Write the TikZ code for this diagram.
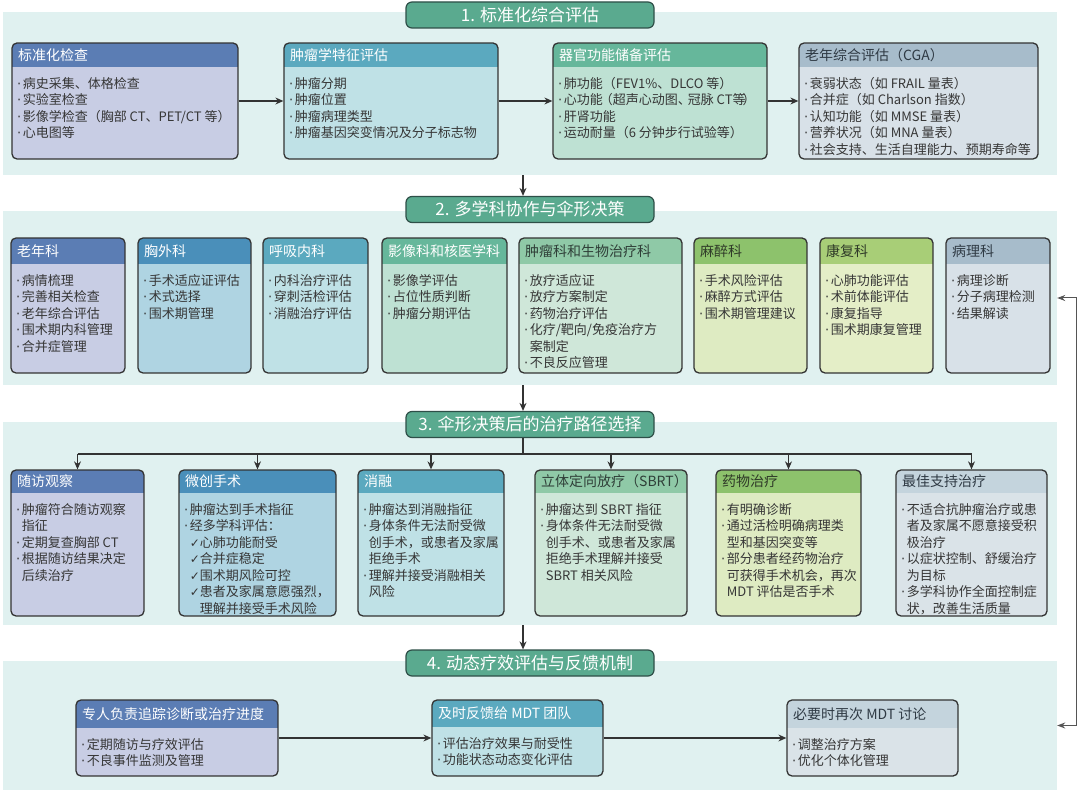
\documentclass[tikz,border=0pt]{standalone}
\usepackage{fontspec}
\setmainfont{Noto Sans CJK SC}
\newfontfamily\symf{DejaVu Sans}
\usetikzlibrary{arrows.meta,fit}

\definecolor{bandc}{HTML}{E0F1F0}
\definecolor{tabc}{HTML}{5AAA8F}
\definecolor{tabd}{HTML}{2E4F48}
\definecolor{frame}{HTML}{333333}
\definecolor{txt}{HTML}{363636}
\definecolor{fbc}{HTML}{555555}
% palettes: h = header, b = body, t = header text
\definecolor{pAh}{HTML}{5B7DB4}\definecolor{pAb}{HTML}{C8CDE4}\colorlet{pAt}{white}
\definecolor{pBh}{HTML}{4A8FBA}\definecolor{pBb}{HTML}{AFD4E2}\colorlet{pBt}{white}
\definecolor{pCh}{HTML}{5BA9BF}\definecolor{pCb}{HTML}{BFE1E6}\colorlet{pCt}{white}
\definecolor{pDh}{HTML}{66B79B}\definecolor{pDb}{HTML}{BEE1D3}\colorlet{pDt}{white}
\definecolor{pEh}{HTML}{8FC9A7}\definecolor{pEb}{HTML}{CFE7D9}\definecolor{pEt}{HTML}{2F3F38}
\definecolor{pFh}{HTML}{8DC26C}\definecolor{pFb}{HTML}{DEEBC2}\definecolor{pFt}{HTML}{2F3A28}
\definecolor{pGh}{HTML}{A8CE77}\definecolor{pGb}{HTML}{E4EEC7}\definecolor{pGt}{HTML}{2F3A28}
\definecolor{pHh}{HTML}{A7BCCB}\definecolor{pHb}{HTML}{D8E1E8}\definecolor{pHt}{HTML}{2F3A44}
\definecolor{pIh}{HTML}{C4D4DD}\definecolor{pIb}{HTML}{DAE3E8}\definecolor{pIt}{HTML}{2F3A44}

\newcommand\itm{{\symf ·}\kern1.5pt}
\newcommand\ind{\hphantom{\itm}}
\newcommand\ck{{\symf\fontsize{12}{14}\selectfont ✓}}
\newcommand\ckind{\hphantom{\ck}}

% #1 name, #2 x1, #3 y1, #4 x2, #5 y2, #6 header height, #7 palette, #8 title, #9 body
\newcommand\BOX[9]{%
  \begin{scope}
    \clip[rounded corners=5pt] (#2,#3) rectangle (#4,#5);
    \fill[#7b] (#2,#3) rectangle (#4,#5);
    \fill[#7h] (#2,#3) rectangle (#4,#3+#6);
  \end{scope}
  \node[boxframe, fit={(#2,#3) (#4,#5)}] (#1) {};
  \node[headtext, text=#7t, anchor=west] (#1-t) at (#2+6, #3+#6/2) {#8};
  \node[bodytext, anchor=north west] (#1-b) at (#2+5, #3+#6+10) {#9};
}

\begin{document}
\begin{tikzpicture}[x=1pt,y=-1pt,
  band/.style={fill=bandc, draw=none, inner sep=0pt},
  tab/.style={fill=tabc, draw=tabd, line width=1.2pt, rounded corners=6pt, text=white,
    font=\fontsize{17}{20}\selectfont, inner sep=0pt, minimum width=248pt, minimum height=26pt},
  boxframe/.style={draw=frame, line width=1.3pt, rounded corners=5pt, inner sep=0pt},
  headtext/.style={font=\fontsize{14}{17}\selectfont, inner sep=0pt},
  bodytext/.style={font=\fontsize{13}{16.5}\selectfont, text=txt, align=left, inner sep=0pt},
  conn/.style={draw=frame, line width=1.1pt},
  arr/.style={draw=frame, line width=1.1pt, -{Stealth[length=8pt,width=7pt]}},
  fb/.style={draw=fbc, line width=1pt, {Stealth[length=8pt,width=6pt]}-{Stealth[length=8pt,width=6pt]}}
]
\useasboundingbox (0,0) rectangle (1080,794);
\fill[white] (0,0) rectangle (1080,794);

% bands
\node[band, minimum width=1054pt, minimum height=163pt] (band1) at (530,93.5) {};
\node[band, minimum width=1054pt, minimum height=174pt] (band2) at (530,298) {};
\node[band, minimum width=1054pt, minimum height=203pt] (band3) at (530,523.5) {};
\node[band, minimum width=1054pt, minimum height=129pt] (band4) at (530,725.5) {};

% tabs
\node[tab] (tab1) at (530,15) {1. 标准化综合评估};
\node[tab] (tab2) at (530,209.5) {2. 多学科协作与伞形决策};
\node[tab] (tab3) at (530,424.5) {3. 伞形决策后的治疗路径选择};
\node[tab] (tab4) at (530,663) {4. 动态疗效评估与反馈机制};

% ---------- section 1
\BOX{b11}{12}{43}{238}{159}{24}{pA}{标准化检查}{%
\itm 病史采集、体格检查\\
\itm 实验室检查\\
\itm 影像学检查（胸部 CT、PET/CT 等）\\
\itm 心电图等}
\BOX{b12}{284}{43}{498}{159}{24}{pC}{肿瘤学特征评估}{%
\itm 肿瘤分期\\
\itm 肿瘤位置\\
\itm 肿瘤病理类型\\
\itm 肿瘤基因突变情况及分子标志物}
\BOX{b13}{553}{43}{767}{159}{24}{pD}{器官功能储备评估}{%
\itm 肺功能（FEV1\%、DLCO 等）\\
\itm 心功能\kern-3pt（超声心动图、\kern-3pt冠脉 CT等\kern-3pt）\\
\itm 肝肾功能\\
\itm 运动耐量（6 分钟步行试验等）}
\BOX{b14}{799}{43}{1038}{159}{24}{pH}{老年综合评估（CGA）}{%
\itm 衰弱状态（如 FRAIL 量表）\\
\itm 合并症（如 Charlson 指数）\\
\itm 认知功能（如 MMSE 量表）\\
\itm 营养状况（如 MNA 量表）\\
\itm 社会支持、生活自理能力、预期寿命等}

\draw[arr] (b11) -- (b12);
\draw[arr] (b12) -- (b13);
\draw[arr] (b13) -- (b14);

% ---------- section 2
\BOX{b21}{11}{238}{125}{373}{26}{pA}{老年科}{%
\itm 病情梳理\\
\itm 完善相关检查\\
\itm 老年综合评估\\
\itm 围术期内科管理\\
\itm 合并症管理}
\BOX{b22}{138}{238}{251}{373}{26}{pB}{胸外科}{%
\itm 手术适应证评估\\
\itm 术式选择\\
\itm 围术期管理}
\BOX{b23}{263}{238}{368}{373}{26}{pC}{呼吸内科}{%
\itm 内科治疗评估\\
\itm 穿刺活检评估\\
\itm 消融治疗评估}
\BOX{b24}{382}{238}{507}{373}{26}{pD}{影像科和核医学科}{%
\itm 影像学评估\\
\itm 占位性质判断\\
\itm 肿瘤分期评估}
\BOX{b25}{519}{238}{682}{373}{26}{pE}{肿瘤科和生物治疗科}{%
\itm 放疗适应证\\
\itm 放疗方案制定\\
\itm 药物治疗评估\\
\itm 化疗/靶向/免疫治疗方\\
\ind 案制定\\
\itm 不良反应管理}
\BOX{b26}{694}{238}{807}{373}{26}{pF}{麻醉科}{%
\itm 手术风险评估\\
\itm 麻醉方式评估\\
\itm 围术期管理建议}
\BOX{b27}{820}{238}{933}{373}{26}{pG}{康复科}{%
\itm 心肺功能评估\\
\itm 术前体能评估\\
\itm 康复指导\\
\itm 围术期康复管理}
\BOX{b28}{946}{238}{1050}{373}{26}{pH}{病理科}{%
\itm 病理诊断\\
\itm 分子病理检测\\
\itm 结果解读}

% ---------- section 3
\BOX{b31}{11}{470}{144}{616}{23}{pA}{随访观察}{%
\itm 肿瘤符合随访观察\\
\ind 指征\\
\itm 定期复查胸部 CT\\
\itm 根据随访结果决定\\
\ind 后续治疗}
\BOX{b32}{179}{470}{336}{616}{23}{pB}{微创手术}{%
\itm 肿瘤达到手术指征\\
\itm 经多学科评估：\\
\ind\ck 心肺功能耐受\\
\ind\ck 合并症稳定\\
\ind\ck 围术期风险可控\\
\ind\ck 患者及家属意愿强烈，\\
\ind\ckind 理解并接受手术风险}
\BOX{b33}{358}{470}{504}{616}{23}{pC}{消融}{%
\itm 肿瘤达到消融指征\\
\itm 身体条件无法耐受微\\
\ind 创手术，或患者及家属\\
\ind 拒绝手术\\
\itm 理解并接受消融相关\\
\ind 风险}
\BOX{b34}{535}{470}{687}{616}{23}{pE}{立体定向放疗（SBRT）}{%
\itm 肿瘤达到 SBRT 指征\\
\itm 身体条件无法耐受微\\
\ind 创手术、或患者及家属\\
\ind 拒绝手术理解并接受\\
\ind SBRT 相关风险}
\BOX{b35}{716}{470}{861}{616}{23}{pF}{药物治疗}{%
\itm 有明确诊断\\
\itm 通过活检明确病理类\\
\ind 型和基因突变等\\
\itm 部分患者经药物治疗\\
\ind 可获得手术机会，再次\\
\ind MDT 评估是否手术}
\BOX{b36}{896}{470}{1047}{616}{23}{pI}{最佳支持治疗}{%
\itm 不适合抗肿瘤治疗或患\\
\ind 者及家属不愿意接受积\\
\ind 极治疗\\
\itm 以症状控制、舒缓治疗\\
\ind 为目标\\
\itm 多学科协作全面控制症\\
\ind 状，改善生活质量}

% ---------- section 4
\BOX{b41}{76}{700}{278}{776}{28}{pA}{专人负责追踪诊断或治疗进度}{%
\itm 定期随访与疗效评估\\
\itm 不良事件监测及管理}
\BOX{b42}{432}{700}{603}{776}{27}{pC}{及时反馈给 MDT 团队}{%
\itm 评估治疗效果与耐受性\\
\itm 功能状态动态变化评估}
\BOX{b43}{787}{700}{958}{776}{28}{pI}{必要时再次 MDT 讨论}{%
\itm 调整治疗方案\\
\itm 优化个体化管理}

\draw[arr] (b41) -- (b42);
\draw[arr] (b42) -- (b43);

% ---------- connectors between sections
\coordinate (ax) at (523,0);
\draw[arr] (band1.south -| ax) -- (tab2.north -| ax);
\draw[arr] (band2.south -| ax) -- (tab3.north -| ax);
\draw[arr] (band3.south -| ax) -- (tab4.north -| ax);

% branching in section 3
\coordinate (br) at (523,454);
\draw[conn] (tab3.south -| br) -- (br);
\draw[conn] (b31.north |- br) -- (b36.north |- br);
\foreach \n in {b31,b32,b33,b34,b35,b36}
  \draw[arr] (\n.north |- br) -- (\n.north);

% feedback loop
\draw[fb] (band2.east) -- ++(19,0) |- (band4.east);
\end{tikzpicture}
\end{document}
